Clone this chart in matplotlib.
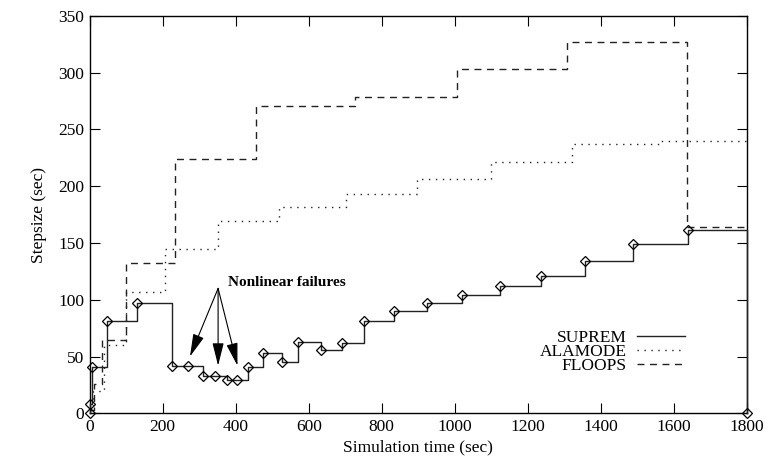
import numpy as np
import matplotlib.pyplot as plt

plt.rcParams['font.family'] = ['Liberation Serif', 'DejaVu Serif']

# SUPREM step sizes (markers at each change)
supr_t = [0, 1, 8, 48, 130, 227, 269, 310, 343, 376, 403, 433, 474, 526, 571,
          634, 690, 752, 833, 925, 1020, 1123, 1235, 1356, 1488, 1638, 1800]
supr_v = [0, 8, 41, 81, 97, 42, 42, 33, 33, 29, 29, 41, 53, 45, 63,
          56, 62, 81, 90, 97, 104, 112, 121, 134, 149, 161, 0]

# ALAMODE
ala_t = [0, 10, 40, 101, 206, 352, 519, 703, 897, 1100, 1321, 1558, 1800]
ala_v = [3, 20, 60, 107, 145, 169, 182, 193, 206, 221, 237, 240, 240]

# FLOOPS
flo_t = [0, 12, 35, 101, 234, 457, 727, 1006, 1308, 1636, 1800]
flo_v = [3, 26, 65, 132, 224, 271, 279, 303, 327, 164, 164]

xticks = np.arange(0, 1801, 200)
yticks = np.arange(0, 351, 50)

fig = plt.figure(figsize=(7.67, 4.62), dpi=100)
ax = fig.add_axes([0.1167, 0.1054, 0.8573, 0.8602])

ax.step(supr_t, supr_v, where='post', color='#222222', lw=1.0,
        marker='D', ms=4.6, mfc='none', mec='black', mew=0.9, label='SUPREM',
        clip_on=False, zorder=3)
ax.step(ala_t, ala_v, where='post', color='#222222', lw=1.0,
        linestyle=(0, (1, 4)), label='ALAMODE')
ax.step(flo_t, flo_v, where='post', color='#222222', lw=1.0,
        linestyle=(0, (5, 4)), label='FLOOPS')

# annotation for nonlinear failures
ax.text(380, 115, 'Nonlinear failures', fontsize=11, fontweight='bold',
        va='center', ha='left')
for tx, ty in [(275, 50), (352, 42), (405, 42)]:
    ax.annotate('', xy=(tx, ty), xytext=(352, 110),
                arrowprops=dict(arrowstyle='-|>,head_length=1.4,head_width=0.35',
                                color='black', lw=0.8, shrinkA=0, shrinkB=0))

ax.set_xlim(0, 1800)
ax.set_ylim(0, 350)
ax.set_xticks(xticks)
ax.set_yticks(yticks)
ax.tick_params(direction='in', length=7, width=0.8, top=True, right=True,
               labelsize=12.5, pad=4)
for s in ax.spines.values():
    s.set_linewidth(1.0)

ax.set_xlabel('Simulation time (sec)', fontsize=12.5, labelpad=3)
ax.set_ylabel('Stepsize (sec)', fontsize=12.5, labelpad=8)

leg = ax.legend(loc='lower right', bbox_to_anchor=(0.93, 0.06), frameon=False,
                markerfirst=False, fontsize=12.5, labelspacing=-0.12,
                handlelength=2.8, handletextpad=0.6)
for h in leg.legend_handles:
    h.set_marker('')

fig.savefig('out.png', dpi=100)
